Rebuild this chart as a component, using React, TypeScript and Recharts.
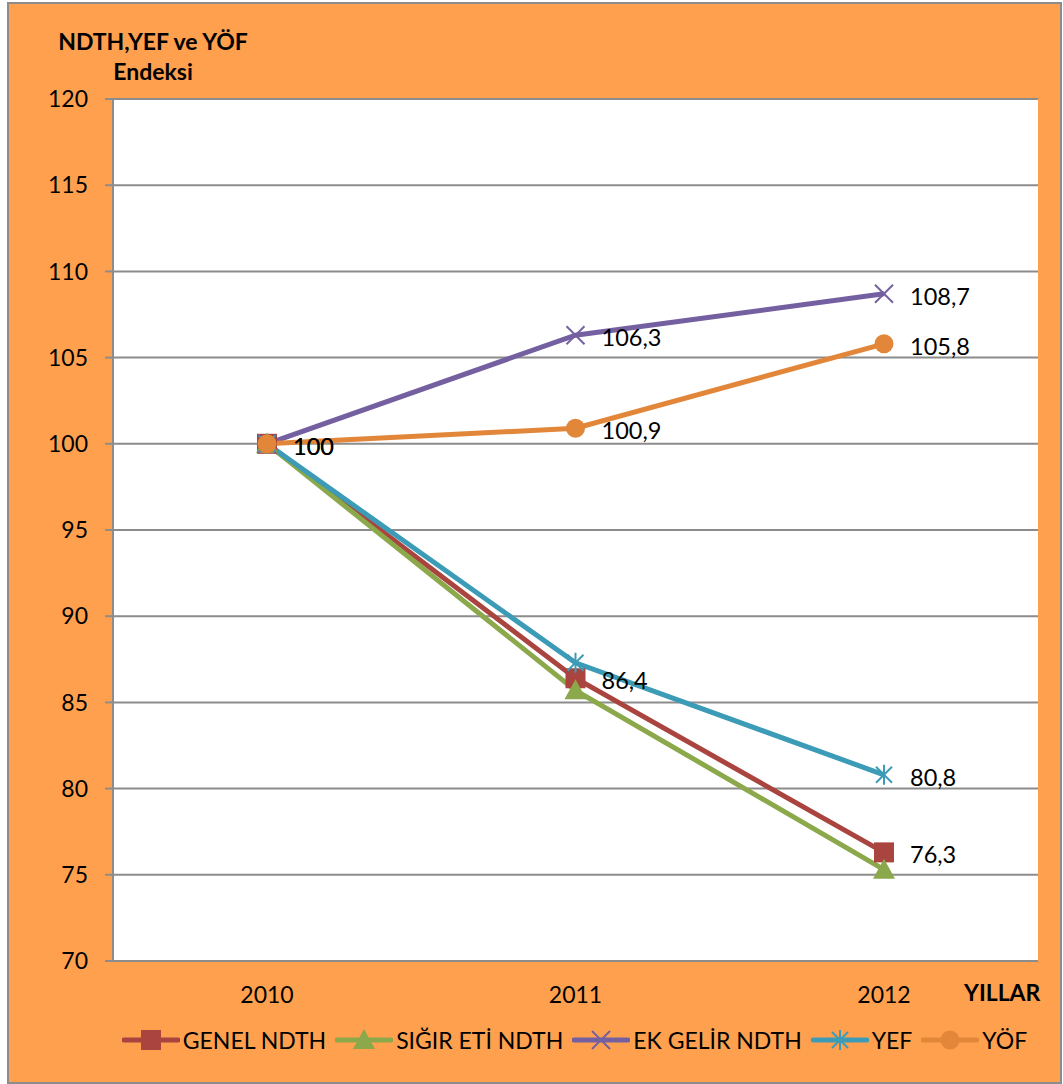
import { CartesianGrid, LabelList, Legend, Line, LineChart, XAxis, YAxis } from "recharts";

const years = ["2010", "2011", "2012"];
const genelNdth = [100, 86.4, 76.3];
const sigirEtiNdth = [100, 85.7, 75.3];
const ekGelirNdth = [100, 106.3, 108.7];
const yef = [100, 87.3, 80.8];
const yof = [100, 100.9, 105.8];
const yTicks = [70, 75, 80, 85, 90, 95, 100, 105, 110, 115, 120];

// which points carry a value label in the original
const genelLabelled = [true, true, true];
const sigirLabelled = [false, false, false];
const ekGelirLabelled = [false, true, true];
const yefLabelled = [false, false, true];
const yofLabelled = [true, true, true];

const data = years.map((year, i) => ({
  year,
  genel: genelNdth[i],
  sigir: sigirEtiNdth[i],
  ekGelir: ekGelirNdth[i],
  yef: yef[i],
  yof: yof[i],
}));

const series = [
  { key: "genel", name: "GENEL NDTH", color: "#A9443F", marker: "square", labelled: genelLabelled },
  { key: "sigir", name: "SIĞIR ETİ NDTH", color: "#8BA84B", marker: "triangle", labelled: sigirLabelled },
  { key: "ekGelir", name: "EK GELİR NDTH", color: "#7460A0", marker: "cross", labelled: ekGelirLabelled },
  { key: "yef", name: "YEF", color: "#3C9BB6", marker: "star", labelled: yefLabelled },
  { key: "yof", name: "YÖF", color: "#E2873A", marker: "circle", labelled: yofLabelled },
];

const font = "Lato, 'Open Sans', sans-serif";
const gridColor = "#8C8C8C";
const orange = "#FFA04F";
const textSize = 23;

function Marker({ cx, cy, type, color }: { cx: number; cy: number; type: string; color: string }) {
  if (cx == null || cy == null) return null;
  if (type === "square") return <rect x={cx - 10} y={cy - 10} width={20} height={20} fill={color} />;
  if (type === "triangle")
    return <polygon points={`${cx},${cy - 11} ${cx + 11},${cy + 9} ${cx - 11},${cy + 9}`} fill={color} />;
  if (type === "circle") return <circle cx={cx} cy={cy} r={9.5} fill={color} />;
  if (type === "cross")
    return (
      <g stroke={color} strokeWidth={2}>
        <line x1={cx - 9} y1={cy - 9} x2={cx + 9} y2={cy + 9} />
        <line x1={cx - 9} y1={cy + 9} x2={cx + 9} y2={cy - 9} />
      </g>
    );
  return (
    <g stroke={color} strokeWidth={2}>
      <line x1={cx - 8} y1={cy - 8} x2={cx + 8} y2={cy + 8} />
      <line x1={cx - 8} y1={cy + 8} x2={cx + 8} y2={cy - 8} />
      <line x1={cx} y1={cy - 10} x2={cx} y2={cy + 10} />
    </g>
  );
}

function LegendContent() {
  return (
    <div style={{ display: "flex", justifyContent: "center", alignItems: "center", fontFamily: font, fontSize: textSize, color: "#000", paddingLeft: 95 }}>
      {series.map((s) => (
        <div key={s.key} style={{ display: "flex", alignItems: "center", marginRight: 9 }}>
          <svg width={58} height={24} style={{ marginRight: 3 }}>
            <line x1={2} y1={12} x2={56} y2={12} stroke={s.color} strokeWidth={5} strokeLinecap="round" />
            <Marker cx={29} cy={12} type={s.marker} color={s.color} />
          </svg>
          <span>{s.name}</span>
        </div>
      ))}
    </div>
  );
}

export default function App() {
  return (
    <div style={{ position: "absolute", left: 0, top: 0, width: 1063, height: 1084, background: "#fff" }}>
      <div style={{ position: "absolute", left: 7, top: 2, width: 1051, height: 1078, background: orange, border: `2px solid ${gridColor}` }} />
      <div style={{ position: "absolute", left: 52, top: 26, width: 202, textAlign: "center", fontFamily: font, fontWeight: 700, fontSize: textSize, lineHeight: "30px" }}>
        NDTH,YEF ve YÖF
        <br />
        Endeksi
      </div>
      <div style={{ position: "absolute", left: 964, top: 978, fontFamily: font, fontWeight: 700, fontSize: textSize }}>YILLAR</div>
      <div style={{ position: "absolute", left: 0, top: 0 }}>
        <LineChart width={1063} height={1084} data={data} margin={{ top: 99, right: 25, left: 53, bottom: 43 }}>
          <CartesianGrid vertical={false} stroke={gridColor} strokeWidth={2} fill="#fff" />
          <XAxis
            dataKey="year"
            height={40}
            padding={{ left: 154, right: 154 }}
            axisLine={{ stroke: gridColor, strokeWidth: 2 }}
            tickLine={false}
            tickMargin={20}
            tick={{ fill: "#000", fontSize: textSize, fontFamily: font }}
          />
          <YAxis
            width={60}
            domain={[70, 120]}
            ticks={yTicks}
            interval={0}
            axisLine={{ stroke: gridColor, strokeWidth: 2 }}
            tickLine={{ stroke: gridColor, strokeWidth: 2 }}
            tickSize={8}
            tickMargin={17}
            tick={{ fill: "#000", fontSize: textSize, fontFamily: font }}
          />
          <Legend
            height={40}
            content={<LegendContent />}
            wrapperStyle={{ top: 1026, bottom: "auto", left: 0, width: 1063 }}
          />
          {series.map((s) => (
            <Line
              key={s.key}
              dataKey={s.key}
              name={s.name}
              stroke={s.color}
              strokeWidth={5}
              isAnimationActive={false}
              dot={(p: any) => <Marker key={`${s.key}-${p.index}`} cx={p.cx} cy={p.cy} type={s.marker} color={s.color} />}
              activeDot={false}
            >
              <LabelList
                dataKey={s.key}
                content={(p: any) =>
                  s.labelled[p.index] ? (
                    <text x={p.x + 26} y={p.y + 2} dominantBaseline="central" fontSize={23.5} fontFamily={font} fill="#000">
                      {String(p.value).replace(".", ",")}
                    </text>
                  ) : null
                }
              />
            </Line>
          ))}
        </LineChart>
      </div>
    </div>
  );
}
